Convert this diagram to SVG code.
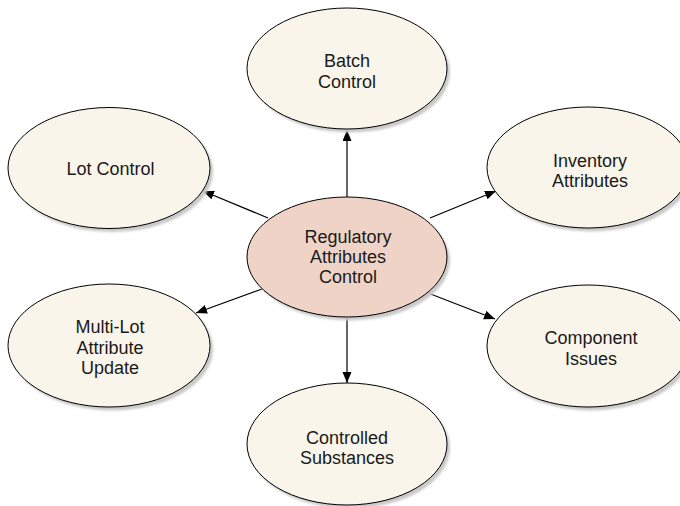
<svg xmlns="http://www.w3.org/2000/svg" width="680" height="506" viewBox="0 0 680 506">
<style>
.n{fill:#f9f5ea;stroke:#000;stroke-width:1}
.c{fill:#efd3c6;stroke:#000;stroke-width:1}
.s{fill:#c9c9c9}
.t{font-family:"Liberation Sans",Arial,sans-serif;font-size:18px;fill:#1a1a1a;text-anchor:middle}
.e{stroke:#000;stroke-width:1.2;fill:none;marker-end:url(#a)}
</style>
<defs>
<filter id="b" x="-10%" y="-10%" width="120%" height="120%"><feGaussianBlur stdDeviation="1.2"/></filter>
<marker id="a" markerUnits="userSpaceOnUse" markerWidth="12" markerHeight="10" refX="11" refY="4.5" orient="auto"><path d="M0,0 L11,4.5 L0,9 z" fill="#000"/></marker>
</defs>
<g id="connectors">
<line class="e" x1="347" y1="197" x2="347" y2="130"/>
<line class="e" x1="268" y1="218" x2="203" y2="191"/>
<line class="e" x1="430" y1="218" x2="496" y2="191"/>
<line class="e" x1="262" y1="289" x2="196" y2="313"/>
<line class="e" x1="428" y1="293" x2="495" y2="319"/>
<line class="e" x1="347" y1="317" x2="347" y2="383"/>
</g>
<g id="batch">
<ellipse class="s" cx="350" cy="72" rx="100" ry="60.5" filter="url(#b)"/>
<ellipse class="n" cx="347" cy="68.5" rx="100" ry="60.5"/>
<text class="t" x="347" y="67">Batch</text>
<text class="t" x="347" y="87.5">Control</text>
</g>
<g id="lot">
<ellipse class="s" cx="112" cy="171.5" rx="101" ry="60.5" filter="url(#b)"/>
<ellipse class="n" cx="109" cy="168" rx="101" ry="60.5"/>
<text class="t" x="110.5" y="175">Lot Control</text>
</g>
<g id="inventory">
<ellipse class="s" cx="591" cy="171" rx="101" ry="60.5" filter="url(#b)"/>
<ellipse class="n" cx="588" cy="167.5" rx="101" ry="60.5"/>
<text class="t" x="590" y="166.5">Inventory</text>
<text class="t" x="590" y="187">Attributes</text>
</g>
<g id="center">
<ellipse class="s" cx="350" cy="260.5" rx="100" ry="60" filter="url(#b)"/>
<ellipse class="c" cx="347" cy="257" rx="100" ry="60"/>
<text class="t" x="348" y="243">Regulatory</text>
<text class="t" x="348" y="263">Attributes</text>
<text class="t" x="348" y="283">Control</text>
</g>
<g id="multilot">
<ellipse class="s" cx="112" cy="349" rx="101" ry="61.5" filter="url(#b)"/>
<ellipse class="n" cx="109" cy="345.5" rx="101" ry="61.5"/>
<text class="t" x="110" y="332.5">Multi-Lot</text>
<text class="t" x="110" y="353.5">Attribute</text>
<text class="t" x="110" y="374">Update</text>
</g>
<g id="component">
<ellipse class="s" cx="591" cy="349.5" rx="101" ry="61" filter="url(#b)"/>
<ellipse class="n" cx="588" cy="346" rx="101" ry="61"/>
<text class="t" x="591" y="344">Component</text>
<text class="t" x="591" y="365">Issues</text>
</g>
<g id="controlled">
<ellipse class="s" cx="350" cy="447.5" rx="100" ry="61" filter="url(#b)"/>
<ellipse class="n" cx="347" cy="444" rx="100" ry="61"/>
<text class="t" x="347" y="443.5">Controlled</text>
<text class="t" x="347" y="463.5">Substances</text>
</g>
</svg>
